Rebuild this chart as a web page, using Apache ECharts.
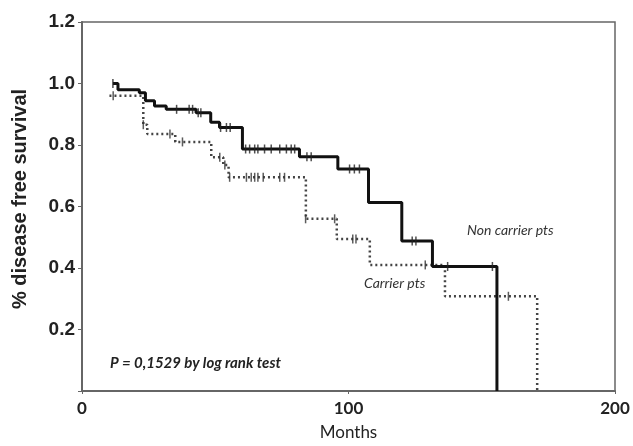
<!DOCTYPE html>
<html>
<head>
<meta charset="utf-8">
<script src="https://cdn.jsdelivr.net/npm/echarts@6/dist/echarts.min.js"></script>
<style>
  html, body { margin: 0; padding: 0; background: #fff; }
  #chart { width: 633px; height: 446px; }
</style>
</head>
<body>
<div id="chart"></div>
<script>
// Non carrier pts (solid) - step points: month, survival after the drop
var nonCarrierMonths = [11.6, 13.5, 21.5, 23.8, 27.2, 31.6, 42.8, 48.3, 51.6, 60.2, 81.6, 96.0, 107.5, 120.0, 131.5, 155.7];
var nonCarrierSurv   = [1.0, 0.98, 0.97, 0.944, 0.927, 0.916, 0.905, 0.874, 0.857, 0.787, 0.762, 0.722, 0.613, 0.488, 0.405, 0.0];
// censored observations on the solid curve
var nonCarrierCensMonths = [11.6, 35.5, 40.2, 41.5, 43.6, 44.6, 52.0, 54.2, 55.6, 61.4, 62.9, 64.8, 66.0, 68.5, 71.0, 74.2, 76.7, 78.5, 79.8, 84.4, 86.0, 100.4, 102.2, 104.1, 123.9, 125.3, 137.2, 154.0];
var nonCarrierCensSurv   = [1.0, 0.916, 0.916, 0.916, 0.905, 0.905, 0.857, 0.857, 0.857, 0.787, 0.787, 0.787, 0.787, 0.787, 0.787, 0.787, 0.787, 0.787, 0.787, 0.762, 0.762, 0.722, 0.722, 0.722, 0.488, 0.488, 0.405, 0.405];

// Carrier pts (dotted)
var carrierMonths = [10.3, 23.0, 24.5, 35.0, 48.5, 53.0, 55.0, 84.0, 95.6, 108.0, 136.2, 170.8];
var carrierSurv   = [0.96, 0.866, 0.836, 0.81, 0.76, 0.735, 0.695, 0.56, 0.494, 0.41, 0.308, 0.0];
var carrierCensMonths = [11.7, 23.0, 33.0, 37.7, 51.7, 53.6, 55.4, 61.7, 63.5, 64.8, 66.0, 68.0, 74.2, 76.0, 83.9, 94.8, 101.6, 102.8, 128.8, 160.0];
var carrierCensSurv   = [0.96, 0.866, 0.836, 0.81, 0.76, 0.735, 0.695, 0.695, 0.695, 0.695, 0.695, 0.695, 0.695, 0.695, 0.56, 0.56, 0.494, 0.494, 0.41, 0.308];

var xTicks = [0, 100, 200];

function pairs(xs, ys) {
    var out = [];
    for (var i = 0; i < xs.length; i++) {
        out.push([xs[i], ys[i]]);
    }
    return out;
}

var chart = echarts.init(document.getElementById('chart'), null, { renderer: 'canvas' });

var option = {
    animation: false,
    backgroundColor: '#fff',
    grid: {
        left: 82, right: 18, top: 22, bottom: 52,
        show: true,
        borderColor: '#666',
        borderWidth: 1.5
    },
    xAxis: {
        type: 'value',
        min: 0,
        max: 200,
        interval: 100,
        name: 'Months',
        nameLocation: 'middle',
        nameGap: 33,
        nameTextStyle: { fontFamily: 'Lato', fontSize: 17, color: '#222' },
        axisLine: { lineStyle: { color: '#666', width: 2 } },
        axisTick: { length: 3, lineStyle: { color: '#666' } },
        axisLabel: {
            margin: 9,
            fontFamily: 'Lato',
            fontWeight: 'bold',
            fontSize: 17,
            color: '#222',
            formatter: function(v) {
                return xTicks.indexOf(v) >= 0 ? String(v) : '';
            }
        },
        splitLine: { show: false }
    },
    yAxis: {
        type: 'value',
        min: 0,
        max: 1.2,
        interval: 0.2,
        axisLine: { show: true, lineStyle: { color: '#666', width: 2 } },
        axisTick: { show: true, length: 4, lineStyle: { color: '#666' } },
        axisLabel: {
            margin: 7,
            fontFamily: 'Liberation Sans',
            fontWeight: 'bold',
            fontSize: 19,
            color: '#222',
            formatter: function(v) {
                return v === 0 ? '' : v.toFixed(1);
            }
        },
        splitLine: { show: false }
    },
    graphic: [
        {
            type: 'text',
            x: 20, y: 199,
            rotation: Math.PI / 2,
            style: {
                text: '% disease free survival',
                fontFamily: 'Liberation Sans',
                fontWeight: 'bold',
                fontSize: 20,
                fill: '#222',
                textAlign: 'center',
                textVerticalAlign: 'middle'
            }
        },
        {
            type: 'text',
            x: 467, y: 230,
            style: {
                text: 'Non carrier pts',
                fontFamily: 'Lato',
                fontStyle: 'italic',
                fontSize: 14,
                fill: '#333',
                textVerticalAlign: 'middle'
            }
        },
        {
            type: 'text',
            x: 364, y: 283,
            style: {
                text: 'Carrier pts',
                fontFamily: 'Lato',
                fontStyle: 'italic',
                fontSize: 14,
                fill: '#333',
                textVerticalAlign: 'middle'
            }
        },
        {
            type: 'text',
            x: 110, y: 363,
            style: {
                text: 'P = 0,1529 by log rank test',
                fontFamily: 'Lato',
                fontStyle: 'italic',
                fontWeight: 'bold',
                fontSize: 15,
                fill: '#222',
                textVerticalAlign: 'middle'
            }
        }
    ],
    series: [
        {
            name: 'Carrier pts',
            type: 'line',
            step: 'end',
            symbol: 'none',
            data: pairs(carrierMonths, carrierSurv),
            lineStyle: { color: '#444', width: 2.5, type: [2, 3] },
            z: 2
        },
        {
            name: 'Non carrier pts',
            type: 'line',
            step: 'end',
            symbol: 'none',
            data: pairs(nonCarrierMonths, nonCarrierSurv),
            lineStyle: { color: '#111', width: 3 },
            z: 3
        },
        {
            name: 'Carrier censored',
            type: 'scatter',
            symbol: 'rect',
            symbolSize: [1.5, 9],
            itemStyle: { color: '#333' },
            data: pairs(carrierCensMonths, carrierCensSurv),
            z: 4
        },
        {
            name: 'Non carrier censored',
            type: 'scatter',
            symbol: 'rect',
            symbolSize: [1.5, 9],
            itemStyle: { color: '#222' },
            data: pairs(nonCarrierCensMonths, nonCarrierCensSurv),
            z: 4
        }
    ]
};

chart.setOption(option);
</script>
</body>
</html>
